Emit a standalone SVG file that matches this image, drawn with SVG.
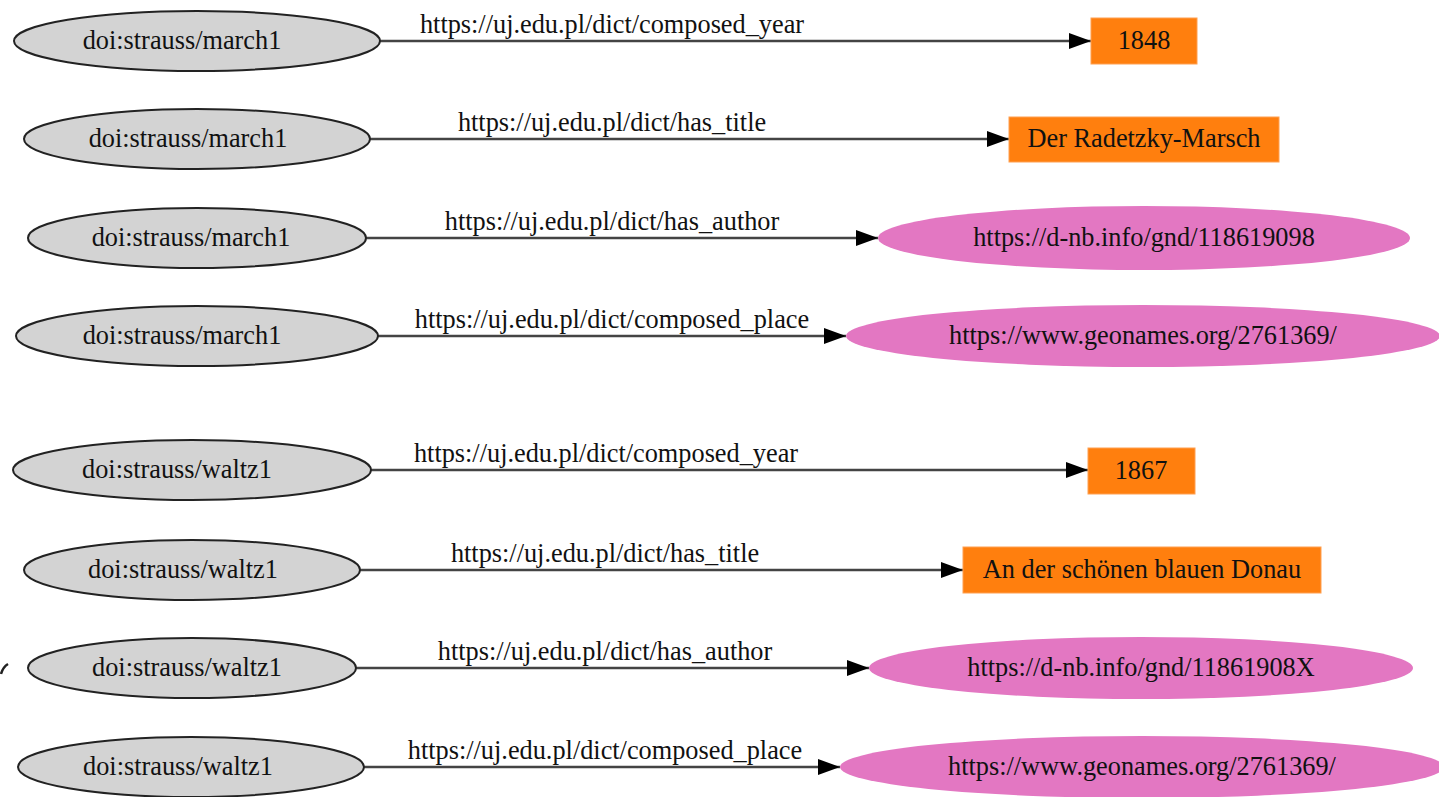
<svg xmlns="http://www.w3.org/2000/svg" width="1439" height="797" viewBox="0 0 1439 797">
  <defs>
    <marker id="arrow" viewBox="0 0 22 16" refX="22" refY="8" markerWidth="22" markerHeight="16" markerUnits="userSpaceOnUse" orient="auto">
      <path d="M0,0 L22,8 L0,16 Z" fill="#000"/>
    </marker>
  </defs>
  <style>
    text { font-family: "Liberation Serif", "Times New Roman", serif; font-size: 26.3px; fill: #111; text-anchor: middle; }
    .subj ellipse { fill: #d3d3d3; stroke: #222; stroke-width: 2; }
    .lit rect { fill: #ff7f0e; stroke: #ffa050; stroke-width: 1; }
    .res ellipse { fill: #e377c2; stroke: none; }
    .edges line { stroke: #444; stroke-width: 2.4; marker-end: url(#arrow); }
  </style>
  <rect width="1439" height="797" fill="#fff"/>

  <!-- connectors -->
  <g class="edges" id="edges">
    <line x1="380" y1="41" x2="1091" y2="41"/>
    <line x1="370" y1="139" x2="1009" y2="139"/>
    <line x1="366" y1="238" x2="878" y2="238"/>
    <line x1="377" y1="336" x2="846" y2="336"/>
    <line x1="371" y1="470" x2="1088" y2="470"/>
    <line x1="359" y1="570" x2="963" y2="570"/>
    <line x1="355" y1="668" x2="869" y2="668"/>
    <line x1="364" y1="767" x2="840" y2="767"/>
  </g>
  <g id="edge-labels">
    <text x="612" y="33">https://uj.edu.pl/dict/composed_year</text>
    <text x="612" y="131">https://uj.edu.pl/dict/has_title</text>
    <text x="612" y="230">https://uj.edu.pl/dict/has_author</text>
    <text x="612" y="328">https://uj.edu.pl/dict/composed_place</text>
    <text x="606" y="462">https://uj.edu.pl/dict/composed_year</text>
    <text x="605" y="562">https://uj.edu.pl/dict/has_title</text>
    <text x="605" y="660">https://uj.edu.pl/dict/has_author</text>
    <text x="605" y="759">https://uj.edu.pl/dict/composed_place</text>
  </g>
  <!-- stray edge tail at the left border -->
  <path d="M1,674 Q3,667 8,664" fill="none" stroke="#222" stroke-width="2.5"/>

  <!-- subjects -->
  <g class="subj" id="march1-a"><ellipse cx="197" cy="41" rx="183" ry="30"/><text x="182" y="49">doi:strauss/march1</text></g>
  <g class="subj" id="march1-b"><ellipse cx="197" cy="139" rx="173" ry="30"/><text x="188" y="147">doi:strauss/march1</text></g>
  <g class="subj" id="march1-c"><ellipse cx="197" cy="238" rx="169" ry="30"/><text x="191" y="246">doi:strauss/march1</text></g>
  <g class="subj" id="march1-d"><ellipse cx="197" cy="336" rx="181" ry="30"/><text x="182" y="344">doi:strauss/march1</text></g>
  <g class="subj" id="waltz1-a"><ellipse cx="192" cy="470" rx="179" ry="30"/><text x="177" y="478">doi:strauss/waltz1</text></g>
  <g class="subj" id="waltz1-b"><ellipse cx="192" cy="570" rx="168" ry="30"/><text x="183" y="578">doi:strauss/waltz1</text></g>
  <g class="subj" id="waltz1-c"><ellipse cx="192" cy="668" rx="164" ry="30"/><text x="187" y="676">doi:strauss/waltz1</text></g>
  <g class="subj" id="waltz1-d"><ellipse cx="191" cy="767" rx="173" ry="30"/><text x="178" y="775">doi:strauss/waltz1</text></g>

  <!-- literals -->
  <g class="lit" id="year-1848"><rect x="1091" y="18" width="106" height="46"/><text x="1144" y="49">1848</text></g>
  <g class="lit" id="title-march"><rect x="1009" y="117" width="270" height="45"/><text x="1144" y="147">Der Radetzky-Marsch</text></g>
  <g class="lit" id="year-1867"><rect x="1088" y="448" width="107" height="46"/><text x="1141" y="479">1867</text></g>
  <g class="lit" id="title-waltz"><rect x="963" y="547" width="358" height="46"/><text x="1142" y="578">An der schönen blauen Donau</text></g>

  <!-- resources -->
  <g class="res" id="gnd-118619098"><ellipse cx="1144" cy="238" rx="266" ry="32"/><text x="1144" y="246">https://d-nb.info/gnd/118619098</text></g>
  <g class="res" id="geo-march"><ellipse cx="1143" cy="336" rx="297" ry="31"/><text x="1143" y="344">https://www.geonames.org/2761369/</text></g>
  <g class="res" id="gnd-11861908X"><ellipse cx="1141" cy="668" rx="272" ry="31"/><text x="1141" y="676">https://d-nb.info/gnd/11861908X</text></g>
  <g class="res" id="geo-waltz"><ellipse cx="1142" cy="767" rx="302" ry="31"/><text x="1142" y="775">https://www.geonames.org/2761369/</text></g>
</svg>
